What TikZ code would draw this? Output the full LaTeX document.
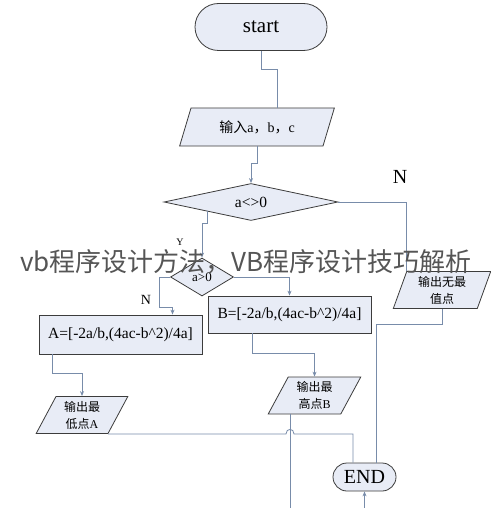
\documentclass[tikz,border=0pt]{standalone}
\usepackage{fontspec}
\setmainfont{Liberation Serif}
\newfontfamily\cjk{Noto Sans CJK SC}
\usetikzlibrary{arrows.meta,shapes.geometric,shapes.misc}
\definecolor{boxfill}{RGB}{232,236,246}
\definecolor{linecolor}{RGB}{120,140,170}
\definecolor{edgecolor}{RGB}{60,60,60}
\definecolor{markcolor}{RGB}{85,85,85}

\begin{document}
\begin{tikzpicture}[x=1pt,y=-1pt,
    term/.style={draw=edgecolor, fill=boxfill, line width=0.8pt, rounded rectangle, inner sep=0pt},
    io/.style={draw=edgecolor, fill=boxfill, line width=0.8pt, trapezium, trapezium left angle=64, trapezium right angle=116, trapezium stretches=true, inner sep=0pt, align=center, font=\fontsize{12}{17}\selectfont},
    decide/.style={draw=edgecolor, fill=boxfill, line width=0.8pt, diamond, inner sep=0pt},
    procbox/.style={draw=edgecolor, fill=boxfill, line width=0.8pt, rectangle, inner sep=0pt, minimum width=163pt, font=\fontsize{15.5}{18}\selectfont},
    conn/.style={draw=linecolor, line width=0.8pt},
    arr/.style={conn, -{Stealth[length=5pt,width=4pt]}}]
        \fill[white] (0,0) rectangle (490,508);
        \useasboundingbox (0,0) rectangle (490,508);
        \node[term, minimum width=132pt, minimum height=47pt, font=\fontsize{21}{24}\selectfont] (start) at (261,27) {start};
        \node[io, minimum width=155pt, minimum height=38pt, font=\fontsize{14}{16}\selectfont] (input) at (257,127) {{\cjk 输入}a{\cjk ，}b{\cjk ，}c};
        \node[decide, aspect=4.7, minimum width=174pt, minimum height=37pt, font=\fontsize{15.5}{18}\selectfont] (nonzero) at (251,202) {a<>0};
        \node[decide, aspect=1.66, minimum width=63pt, minimum height=38pt, font=\fontsize{13}{16}\selectfont] (positive) at (202,277) {a>0};
        \node[procbox, minimum height=39pt] (lowpt) at (120.5,334.5) {A=[-2a/b,(4ac-b\textasciicircum 2)/4a]};
        \node[procbox, minimum height=37pt] (highpt) at (289.5,314.5) {B=[-2a/b,(4ac-b\textasciicircum 2)/4a]};
        \node[io, minimum width=92pt, minimum height=37pt] (outlow) at (82,415) {{\cjk 输出最}\\{\cjk 低点}A};
        \node[io, minimum width=93pt, minimum height=37pt] (outhigh) at (314.5,395.5) {{\cjk 输出最}\\{\cjk 高点}B};
        \node[io, trapezium left angle=72, trapezium right angle=108, minimum width=98pt, minimum height=37pt] (outnone) at (442,290) {{\cjk 输出无最}\\{\cjk 值点}};
        \node[term, minimum width=63pt, minimum height=28pt, font=\fontsize{20}{24}\selectfont] (stop) at (364.5,477) {END};
        \node[font=\fontsize{10}{12}\selectfont] (ylab) at (180,242) {Y};
        \node[font=\fontsize{14}{16}\selectfont] (nlow) at (146,300) {N};
        \node[font=\fontsize{20}{24}\selectfont] (nright) at (400,177) {N};
        \coordinate (drop) at ([xshift=-24.5pt]outhigh.south);
        \coordinate (hop) at (drop |- outlow.bottom right corner);
        \draw[conn] (start.south) -- ++(0,19) -| ([xshift=20pt]input.north);
        \draw[arr] (input.south) -- ++(0,17) -| (nonzero.north);
        \draw[arr] (nonzero.south west) -- ++(0,12) -| (positive.north);
        \draw[conn] (nonzero.east) -| (outnone.top left corner);
        \draw[arr] (positive.west) -- ++(-11,0) -- ++(0,30) -| ([xshift=52pt]lowpt.north);
        \draw[arr] (positive.east) -| (highpt.north);
        \draw[arr] ([xshift=-68pt]lowpt.south) -- ++(0,19) -| (outlow.north);
        \draw[arr] ([xshift=-37.5pt]highpt.south) -- ++(0,20) -| (outhigh.north);
        \draw[conn] (outnone.south) -- ++(0,15) -| ([xshift=12pt]stop.north);
        \draw[conn] (outlow.bottom right corner) -- ([xshift=-4pt]hop) .. controls ([xshift=-4pt,yshift=6pt]hop) and ([xshift=4pt,yshift=6pt]hop) .. ([xshift=4pt]hop) -| ([xshift=-11.5pt]stop.north);
        \draw[arr] (drop) -- ++(0,106) -| (stop.south);
        \node[text=markcolor, font=\cjk\fontsize{26}{30}\selectfont] (mark) at (246,262) {vb程序设计方法，VB程序设计技巧解析};
    \end{tikzpicture}
\end{document}
